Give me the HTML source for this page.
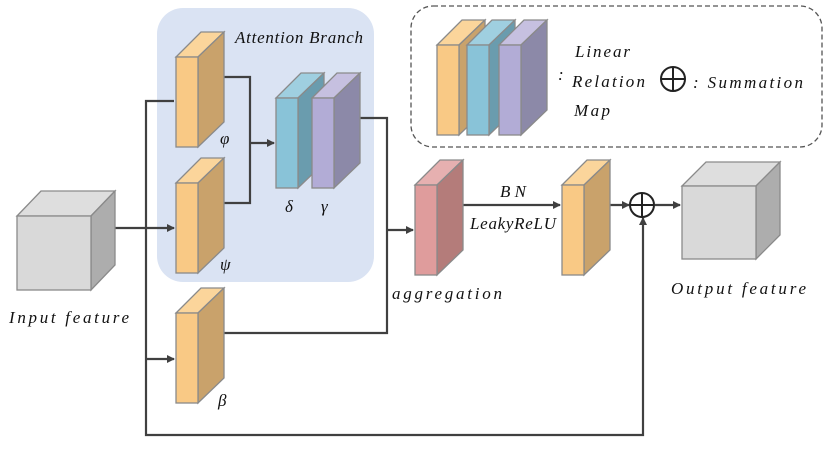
<!DOCTYPE html>
<html><head><meta charset="utf-8"><style>
body{margin:0;background:#fff}
text{font-family:"Liberation Serif","DejaVu Serif",serif;font-style:italic;font-size:17px;fill:#111}
</style></head><body>
<svg width="830" height="448" viewBox="0 0 830 448" xmlns="http://www.w3.org/2000/svg">
<defs>
<marker id="a" markerWidth="8" markerHeight="8" refX="7" refY="4" orient="auto" markerUnits="userSpaceOnUse">
<path d="M0,0 L8,4 L0,8 z" fill="#404040"/></marker>
</defs>
<rect x="157" y="8" width="217" height="274" rx="26" fill="#dae3f3"/>
<rect x="411" y="6" width="411" height="141" rx="22" fill="none" stroke="#555" stroke-width="1.3" stroke-dasharray="5,3"/>

<g fill="none" stroke="#404040" stroke-width="2.2">
<path d="M115,228 H174" marker-end="url(#a)"/>
<path d="M174,101 H146 V435 H643 V218" marker-end="url(#a)"/>
<path d="M146,359 H174" marker-end="url(#a)"/>
<path d="M224,77 H250 V203 H224"/>
<path d="M250,143 H274" marker-end="url(#a)"/>
<path d="M359,118 H387 V333 H224"/>
<path d="M387,230 H413" marker-end="url(#a)"/>
<path d="M462,205 H560" marker-end="url(#a)"/>
<path d="M610,205 H629" marker-end="url(#a)"/>
<path d="M655,205 H680" marker-end="url(#a)"/>
</g>
<circle cx="642" cy="205" r="12" fill="none" stroke="#222" stroke-width="2"/>
<path d="M630,205 H654 M642,193 V217" stroke="#222" stroke-width="2"/>

<g stroke="#8a8a8a" stroke-width="1.3">
<path d="M17,216 L41,191 H115 L91,216 Z" fill="#dedede"/>
<path d="M91,216 L115,191 V265 L91,290 Z" fill="#adadad"/>
<rect x="17" y="216" width="74" height="74" fill="#d9d9d9"/>
<path d="M682,186 L706,162 H780 L756,186 Z" fill="#dedede"/>
<path d="M756,186 L780,162 V235 L756,259 Z" fill="#adadad"/>
<rect x="682" y="186" width="74" height="73" fill="#d9d9d9"/>
</g>

<g stroke="#8a8a8a" stroke-width="1.3">
<g>
<path d="M176,57 L201,32 H224 L198,57 Z" fill="#fbd59b"/>
<path d="M198,57 L224,32 V122 L198,147 Z" fill="#c9a26b"/>
<rect x="176" y="57" width="22" height="90" fill="#f9c985"/>
</g>
<g transform="translate(0,126)">
<path d="M176,57 L201,32 H224 L198,57 Z" fill="#fbd59b"/>
<path d="M198,57 L224,32 V122 L198,147 Z" fill="#c9a26b"/>
<rect x="176" y="57" width="22" height="90" fill="#f9c985"/>
</g>
<g transform="translate(0,256)">
<path d="M176,57 L201,32 H224 L198,57 Z" fill="#fbd59b"/>
<path d="M198,57 L224,32 V122 L198,147 Z" fill="#c9a26b"/>
<rect x="176" y="57" width="22" height="90" fill="#f9c985"/>
</g>
<g transform="translate(100,41)">
<path d="M176,57 L201,32 H224 L198,57 Z" fill="#9fcfe0"/>
<path d="M198,57 L224,32 V122 L198,147 Z" fill="#6a9cae"/>
<rect x="176" y="57" width="22" height="90" fill="#89c3d8"/>
</g>
<g transform="translate(136,41)">
<path d="M176,57 L201,32 H224 L198,57 Z" fill="#c6c0e0"/>
<path d="M198,57 L224,32 V122 L198,147 Z" fill="#8c89a8"/>
<rect x="176" y="57" width="22" height="90" fill="#b2acd6"/>
</g>
<g transform="translate(239,128)">
<path d="M176,57 L201,32 H224 L198,57 Z" fill="#e6b0b0"/>
<path d="M198,57 L224,32 V122 L198,147 Z" fill="#b47c7a"/>
<rect x="176" y="57" width="22" height="90" fill="#df9c9c"/>
</g>
<g transform="translate(386,128)">
<path d="M176,57 L201,32 H224 L198,57 Z" fill="#fbd59b"/>
<path d="M198,57 L224,32 V122 L198,147 Z" fill="#c9a26b"/>
<rect x="176" y="57" width="22" height="90" fill="#f9c985"/>
</g>
<g transform="translate(261,-12)">
<path d="M176,57 L201,32 H224 L198,57 Z" fill="#fbd59b"/>
<path d="M198,57 L224,32 V122 L198,147 Z" fill="#c9a26b"/>
<rect x="176" y="57" width="22" height="90" fill="#f9c985"/>
</g>
<g transform="translate(291,-12)">
<path d="M176,57 L201,32 H224 L198,57 Z" fill="#9fcfe0"/>
<path d="M198,57 L224,32 V122 L198,147 Z" fill="#6a9cae"/>
<rect x="176" y="57" width="22" height="90" fill="#89c3d8"/>
</g>
<g transform="translate(323,-12)">
<path d="M176,57 L201,32 H224 L198,57 Z" fill="#c6c0e0"/>
<path d="M198,57 L224,32 V122 L198,147 Z" fill="#8c89a8"/>
<rect x="176" y="57" width="22" height="90" fill="#b2acd6"/>
</g>
</g>
<circle cx="673" cy="79" r="12" fill="none" stroke="#222" stroke-width="2"/>
<path d="M661,79 H685 M673,67 V91" stroke="#222" stroke-width="2"/>

<text x="235" y="43" font-size="15" textLength="128" lengthAdjust="spacing">Attention Branch</text>
<text x="220" y="144" font-size="18">φ</text>
<text x="220" y="270" font-size="18">ψ</text>
<text x="218" y="406" font-size="18">β</text>
<text x="285" y="212" font-size="18">δ</text>
<text x="321" y="212" font-size="18">γ</text>
<text x="9" y="323" font-size="19" textLength="120" lengthAdjust="spacing">Input feature</text>
<text x="392" y="299" font-size="19" textLength="110" lengthAdjust="spacing">aggregation</text>
<text x="500" y="197" font-size="17" textLength="26" lengthAdjust="spacing">BN</text>
<text x="470" y="229" font-size="17" textLength="86" lengthAdjust="spacing">LeakyReLU</text>
<text x="671" y="294" font-size="19" textLength="135" lengthAdjust="spacing">Output feature</text>
<text x="558" y="80" font-size="14">:</text>
<text x="575" y="57" font-size="18" textLength="55" lengthAdjust="spacing">Linear</text>
<text x="572" y="87" font-size="18" textLength="73" lengthAdjust="spacing">Relation</text>
<text x="574" y="116" font-size="18" textLength="36" lengthAdjust="spacing">Map</text>
<text x="693" y="88" font-size="19" textLength="110" lengthAdjust="spacing">: Summation</text>
</svg>
</body></html>
